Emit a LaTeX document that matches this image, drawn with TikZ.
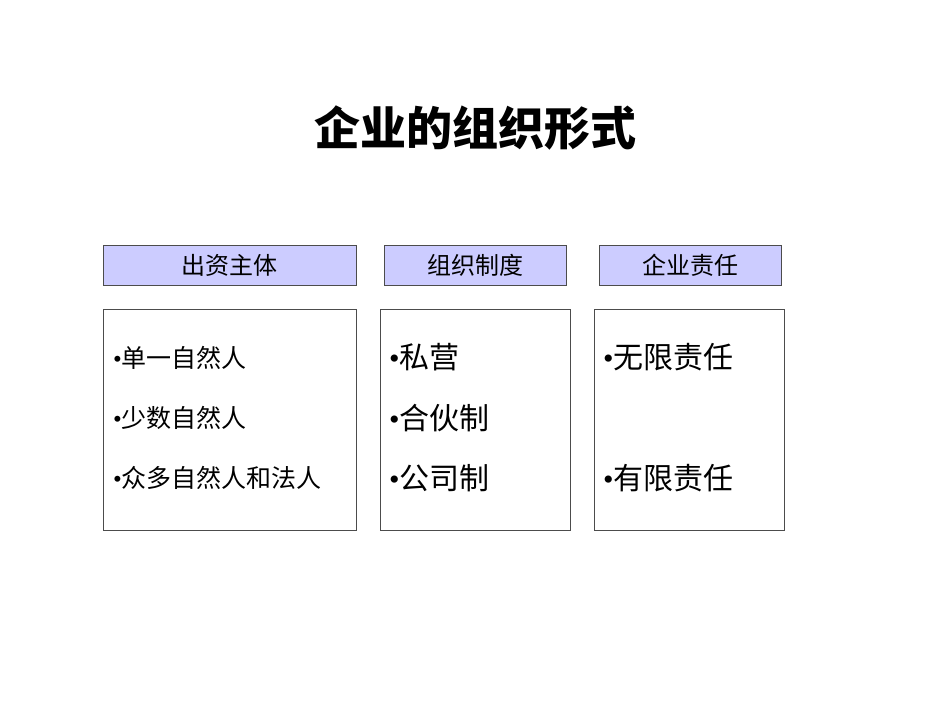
\documentclass[tikz,border=0pt]{standalone}
\usepackage{fontspec}
\setmainfont{Noto Sans CJK SC}
\newfontfamily\latinfont{Liberation Serif}
\newcommand{\bul}{{\latinfont •}}
\tikzset{
  headbox/.style={draw=black!70,fill=blue!20,minimum height=40pt,font=\fontsize{24}{28}\selectfont,inner sep=0pt},
  listbox/.style={draw=black!70,fill=white,minimum height=221pt,inner sep=0pt},
  smallitem/.style={right,font=\fontsize{25}{28}\selectfont,inner sep=0pt},
  bigitem/.style={right,font=\fontsize{30}{34}\selectfont,inner sep=0pt}
}
\begin{document}
\begin{tikzpicture}[x=1pt,y=-1pt]
    \useasboundingbox (0,0) rectangle (950,713);
    \node[font=\fontsize{46}{50}\selectfont\bfseries] (title) at (475,128) {企业的组织形式};
    % headers
    \node[headbox,minimum width=253pt] (h1) at (229.5,265) {出资主体};
    \node[headbox,minimum width=182pt] (h2) at (475,265) {组织制度};
    \node[headbox,minimum width=182pt] (h3) at (690,265) {企业责任};
    % lists
    \node[listbox,minimum width=253pt] (b1) at (229.5,419.5) {};
    \node[listbox,minimum width=190pt] (b2) at (475,419.5) {};
    \node[listbox,minimum width=190pt] (b3) at (689,419.5) {};
    \node[smallitem] (a1) at (113,358) {\bul 单一自然人};
    \node[smallitem] (a2) at (113,418) {\bul 少数自然人};
    \node[smallitem] (a3) at (113,478) {\bul 众多自然人和法人};
    \node[bigitem] (c1) at (389,357) {\bul 私营};
    \node[bigitem] (c2) at (389,418) {\bul 合伙制};
    \node[bigitem] (c3) at (389,478) {\bul 公司制};
    \node[bigitem] (d1) at (603,357) {\bul 无限责任};
    \node[bigitem] (d2) at (603,478) {\bul 有限责任};
\end{tikzpicture}
\end{document}
